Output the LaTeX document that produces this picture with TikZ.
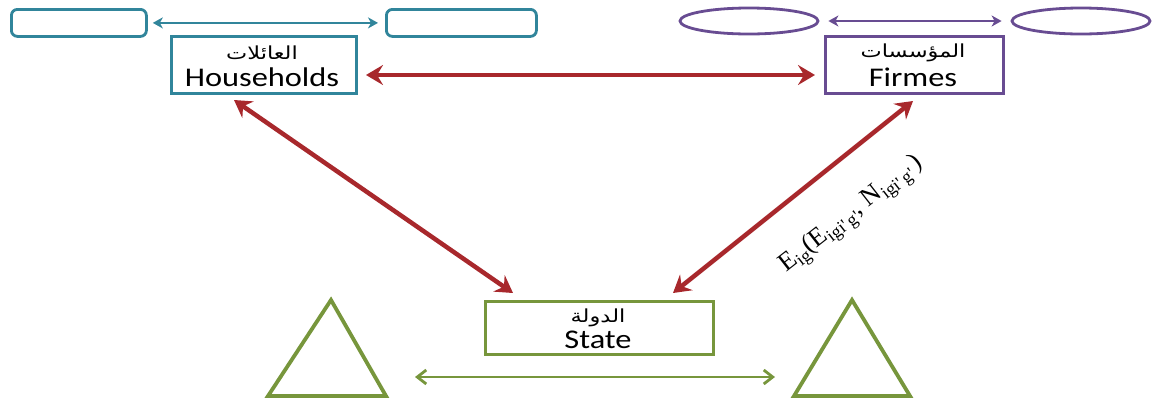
\documentclass[tikz,border=0pt]{standalone}
\usepackage{fontspec}
\setmainfont{Carlito}
\newfontfamily\arabicfont[Script=Arabic]{DejaVu Sans}
\newfontfamily\formulafont{Liberation Serif}
\TeXXeTstate=1
\usetikzlibrary{arrows.meta,calc,shapes.geometric}

\definecolor{hhcol}{RGB}{49,133,155}
\definecolor{fmcol}{RGB}{104,76,146}
\definecolor{stcol}{RGB}{119,150,60}
\definecolor{flowred}{RGB}{168,40,44}

% slightly widened lettering
\newcommand\widen[1]{\scalebox{1.2}[1]{#1}}
\newcommand\ar[1]{{\arabicfont\fontsize{18}{18}\selectfont\scalebox{1.25}[1]{\beginR #1\endR}}}
\newcommand\lowtxt[1]{\raisebox{-0.4ex}{\fontsize{18}{18}\selectfont #1}}

\begin{document}
\begin{tikzpicture}[x=1pt,y=-1pt,
  agent/.style={draw, line width=3pt, fill=white, inner sep=0pt, anchor=north west},
  lat/.style={inner sep=0pt, font=\fontsize{27}{27}\selectfont},
  arab/.style={inner sep=0pt},
  side/.style={draw, line width=2.8pt, inner sep=0pt},
  flow/.style={draw=flowred, line width=4.5pt,
    {Stealth[length=17pt,width=20pt,inset=6pt]}-{Stealth[length=17pt,width=20pt,inset=6pt]}},
  thinflow/.style={line width=2.8pt,
    {Stealth[length=10pt,width=11pt,inset=3pt]}-{Stealth[length=10pt,width=11pt,inset=3pt]}},
  tri/.style={draw=stcol, line width=3.8pt, line join=miter}
]
\useasboundingbox (0,0) rectangle (1153,400);

% households group
\node[side, draw=hhcol, rounded corners=6pt, minimum width=135pt, minimum height=27pt, anchor=north west] (hl) at (10,8) {};
\node[side, draw=hhcol, rounded corners=6pt, minimum width=150pt, minimum height=27pt, anchor=north west] (hr) at (385,8) {};
\draw[thinflow, draw=hhcol] ([xshift=5pt]hl.east) -- ([xshift=-7pt]hr.west);
\node[agent, draw=hhcol, minimum width=185pt, minimum height=57pt] (hh) at (170,35) {};
\node[arab] (hhA) at (262,53) {\ar{العائلات}};
\node[lat] (hhE) at (262,77) {\widen{Households}};

% firms group
\node[side, draw=fmcol, ellipse, minimum width=138pt, minimum height=26pt] (fl) at (749,21) {};
\node[side, draw=fmcol, ellipse, minimum width=138pt, minimum height=26pt] (fr) at (1081,21) {};
\draw[thinflow, draw=fmcol] ([xshift=9pt]fl.east) -- ([xshift=-9pt]fr.west);
\node[agent, draw=fmcol, minimum width=178pt, minimum height=57pt] (fm) at (824,35) {};
\node[arab] (fmA) at (913,53) {\ar{المؤسسات}};
\node[lat] (fmE) at (913,77) {\widen{Firmes}};

% state group
\node[agent, draw=stcol, minimum width=228pt, minimum height=53pt] (st) at (484,300) {};
\node[arab] (stA) at (598,318) {\ar{الدولة}};
\node[lat] (stE) at (598,340) {\widen{State}};
\draw[tri] (268,396) -- (331,300) -- (386,396) -- cycle;
\draw[tri] (794,396) -- (852,300) -- (910,396) -- cycle;
\coordinate (gl) at (415,377);
\coordinate (gr) at (775,377);
\draw[draw=stcol, line width=2.8pt,
  {Straight Barb[length=9pt,width=14pt]}-{Straight Barb[length=9pt,width=14pt]}] (gl) -- (gr);

% exchanges between the three agents
\draw[flow] ([xshift=8pt,yshift=-10pt]hh.east) -- ([xshift=-9pt,yshift=-10pt]fm.west);
\draw[flow] ($(hh.south west)+(64,5)$) -- ($(st.north west)+(29,-7)$);
\draw[flow] ($(fm.south west)+(89,6)$) -- ($(st.north west)+(189,-7)$);

% flow label
\node[rotate=38, inner sep=0pt, font=\formulafont\fontsize{26}{26}\selectfont] (lab) at (852,215)
  {E\lowtxt{ig}(E\lowtxt{igi'\,g'}, N\lowtxt{igi'\,g'}\,)};
\end{tikzpicture}
\end{document}
